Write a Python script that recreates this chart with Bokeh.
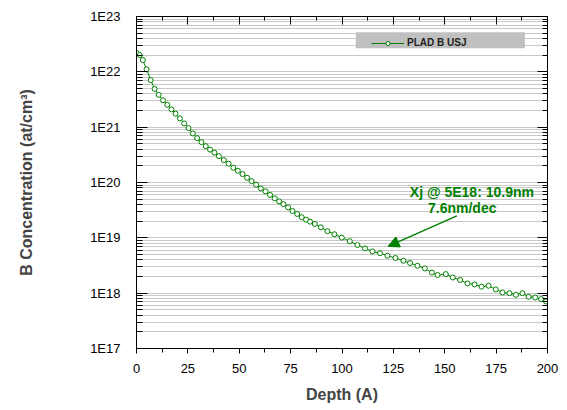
from bokeh.plotting import figure
from bokeh.models import (Range1d, FixedTicker, CustomJSTickFormatter, LinearAxis, LogAxis,
                          Legend, LegendItem, BoxAnnotation, Arrow, NormalHead, Label)
from bokeh.embed import file_html
from bokeh.resources import INLINE

# ---- data ----
depth = [0.1, 1.6, 3.1, 4.9, 6.9, 8.8, 10.8, 12.9, 15.0, 17.0,
         19.0, 21.1, 23.2, 25.3, 27.4, 29.5, 31.6, 33.7, 35.8, 37.9,
         40.1, 42.5, 44.8, 47.1, 49.3, 51.6, 53.8, 56.0, 58.2, 60.5,
         62.8, 65.0, 67.3, 69.4, 71.5, 73.8, 75.9, 78.2, 80.4, 82.5,
         84.5, 86.8, 89.7, 92.9, 96.3, 99.9, 103.8, 107.5, 111.2, 114.8,
         118.5, 122.1, 126.0, 129.9, 133.1, 136.7, 140.3, 143.7, 146.5, 150.5,
         153.9, 157.5, 161.1, 164.5, 167.9, 171.3, 174.8, 178.1, 181.5, 184.6,
         187.8, 190.8, 194.0, 196.9, 199.3]
conc = [2.19e22, 2.01e22, 1.63e22, 1.11e22, 7.10e21, 4.92e21, 3.84e21, 3.06e21, 2.54e21, 2.10e21,
        1.75e21, 1.44e21, 1.17e21, 9.62e20, 7.71e20, 6.34e20, 5.37e20, 4.54e20, 3.93e20, 3.47e20,
        2.99e20, 2.54e20, 2.19e20, 1.85e20, 1.63e20, 1.42e20, 1.22e20, 1.06e20, 9.14e19, 7.83e19,
        6.92e19, 5.96e19, 5.16e19, 4.56e19, 4.06e19, 3.55e19, 3.05e19, 2.70e19, 2.36e19, 2.13e19,
        1.96e19, 1.78e19, 1.55e19, 1.32e19, 1.16e19, 1.01e19, 8.69e18, 7.41e18, 6.44e18, 5.68e18,
        5.27e18, 4.75e18, 4.32e18, 3.85e18, 3.51e18, 3.13e18, 2.80e18, 2.36e18, 2.13e18, 2.21e18,
        1.92e18, 1.73e18, 1.50e18, 1.44e18, 1.31e18, 1.36e18, 1.17e18, 1.03e18, 1.00e18, 9.35e17,
        1.00e18, 8.61e17, 8.36e17, 7.82e17, 7.08e17]
series_name = "PLAD B USJ"
x_ticks = [0, 25, 50, 75, 100, 125, 150, 175, 200]
y_ticks = [1e17, 1e18, 1e19, 1e20, 1e21, 1e22, 1e23]
annotation_line1 = "Xj @ 5E18: 10.9nm"
annotation_line2 = "7.6nm/dec"
x_title = "Depth (A)"
y_title = "B Concentration (at/cm³)"

GREEN = "#008000"
FONT = "Liberation Sans"

x_minor = [t + 12.5 for t in x_ticks[:-1]]
y_minor = [m * t for t in y_ticks[:-1] for m in range(2, 10)]

p = figure(width=567, height=410, x_range=Range1d(0, 200), y_range=Range1d(1e17, 1e23),
           y_axis_type="log", output_backend="svg", toolbar_location=None,
           min_border_left=136, min_border_right=20, min_border_top=16, min_border_bottom=62)
p.background_fill_color = "white"
p.border_fill_color = "white"
p.outline_line_color = "black"

# bottom axis
xa = p.xaxis[0]
xa.ticker = FixedTicker(ticks=x_ticks, minor_ticks=x_minor)
xa.major_tick_in = 0
xa.major_tick_out = 5
xa.minor_tick_in = 0
xa.minor_tick_out = 4
xa.major_label_standoff = 10
xa.major_label_text_font = FONT
xa.major_label_text_font_size = "13px"
xa.major_label_text_color = "black"
xa.axis_label = x_title
xa.axis_label_text_font = FONT
xa.axis_label_text_font_style = "bold"
xa.axis_label_text_font_size = "16px"
xa.axis_label_standoff = 10
xa.axis_line_color = "black"

# left axis
ya = p.yaxis[0]
ya.ticker = FixedTicker(ticks=y_ticks, minor_ticks=y_minor)
ya.formatter = CustomJSTickFormatter(code="return '1E' + Math.round(Math.log10(tick)).toString();")
ya.major_tick_in = 11
ya.major_tick_out = 0
ya.minor_tick_in = 6
ya.minor_tick_out = 0
ya.major_label_standoff = 16
ya.major_label_text_font = FONT
ya.major_label_text_font_size = "13px"
ya.major_label_text_color = "black"
ya.axis_label = y_title
ya.axis_label_text_font = FONT
ya.axis_label_text_font_style = "bold"
ya.axis_label_text_font_size = "16px"
ya.axis_label_standoff = 52
ya.axis_line_color = "black"

# top and right axes (ticks only)
blank = CustomJSTickFormatter(code="return '';")
top = LinearAxis(ticker=FixedTicker(ticks=x_ticks, minor_ticks=x_minor), formatter=blank,
                 major_tick_in=8, major_tick_out=0, minor_tick_in=4, minor_tick_out=0,
                 major_label_text_font_size="1px", major_label_standoff=0)
p.add_layout(top, "above")
right = LogAxis(ticker=FixedTicker(ticks=y_ticks, minor_ticks=y_minor), formatter=blank,
                major_tick_in=10, major_tick_out=0, minor_tick_in=5, minor_tick_out=0,
                major_label_text_font_size="1px", major_label_standoff=0)
p.add_layout(right, "right")

# grids
p.xgrid.visible = False
p.ygrid.ticker = FixedTicker(ticks=y_ticks, minor_ticks=y_minor)
p.ygrid.grid_line_color = "#c8c8c8"
p.ygrid.grid_line_width = 1
p.ygrid.minor_grid_line_color = "#c8c8c8"
p.ygrid.minor_grid_line_width = 1

# data
lr = p.line(depth, conc, line_color=GREEN, line_width=1)
sr = p.scatter(depth, conc, marker="circle", size=5, line_color=GREEN, fill_color="white", line_width=1)

# legend background + legend
p.add_layout(BoxAnnotation(left=106.7, right=189.0, bottom=2.67e22, top=5.2e22,
                           fill_color="#c0c0c0", fill_alpha=1.0, line_color=None))
legend = Legend(items=[LegendItem(label=series_name, renderers=[lr, sr])],
                location=(235, 300), background_fill_alpha=0, border_line_color=None,
                padding=3, margin=0, glyph_width=33, glyph_height=10, label_height=10,
                label_standoff=3, label_text_font=FONT, label_text_font_style="bold",
                label_text_font_size="10px", label_text_color="#222222")
p.add_layout(legend)

# annotation
p.add_layout(Arrow(end=NormalHead(size=11, fill_color=GREEN, line_color=GREEN),
                   x_start=155.9, y_start=2.5e19, x_end=122.4, y_end=7.0e18,
                   line_color=GREEN, line_width=1.5))
p.add_layout(Label(x=163.2, y=6.6e19, text=annotation_line1, text_align="center",
                   text_baseline="middle", text_font=FONT, text_font_style="bold",
                   text_font_size="14px", text_color=GREEN))
p.add_layout(Label(x=158.5, y=3.46e19, text=annotation_line2, text_align="center",
                   text_baseline="middle", text_font=FONT, text_font_style="bold",
                   text_font_size="14px", text_color=GREEN))

open("out.html", "w").write(file_html(p, INLINE))
